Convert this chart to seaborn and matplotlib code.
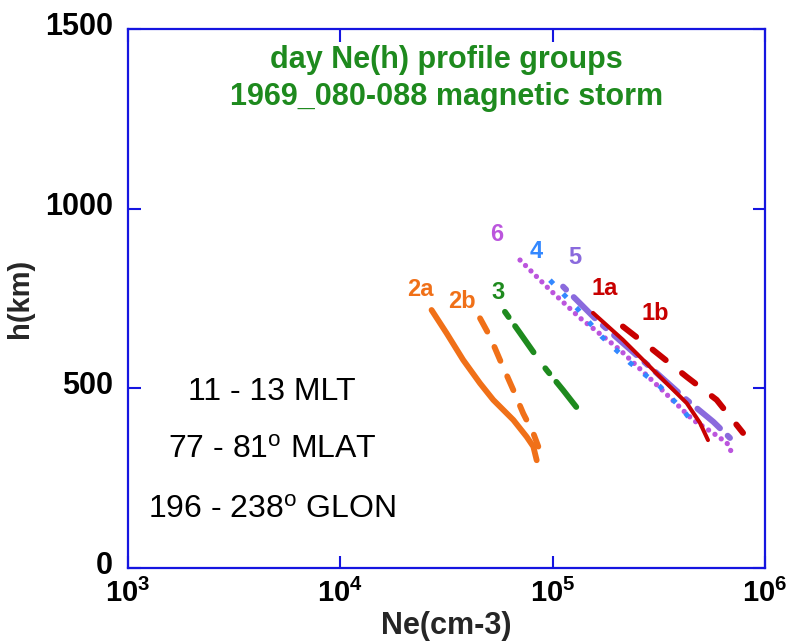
import matplotlib
matplotlib.use("Agg")
import matplotlib.pyplot as plt
import matplotlib.transforms as mtransforms
import seaborn as sns
import numpy as np
import pandas as pd
from matplotlib.ticker import FixedLocator, FixedFormatter, NullLocator

# ---- data (Ne in cm^-3, h in km) ----
ne_2a = [26900, 31700, 37900, 45500, 52500, 65300, 75500, 81100, 84100]
h_2a = [718, 653, 579, 514, 468, 412, 365, 338, 300]
ne_2b = [45500, 50700, 56500, 65300, 72700, 81100, 85600]
h_2b = [695, 644, 579, 495, 430, 375, 338]
ne_3 = [59600, 70200, 84100, 93700, 112000, 134500]
h_3 = [713, 654, 588, 551, 495, 435]
ne_6 = [70200, 97100, 134500, 207500, 320500, 458000, 569000, 662000, 707000]
h_6 = [857, 774, 696, 607, 501, 412, 376, 348, 314]
ne_4 = [97100, 129700, 170200, 231300, 320500, 411000, 476500]
h_4 = [801, 724, 644, 571, 505, 440, 390]
ne_5 = [112000, 129700, 161200, 215200, 297800, 427800, 570900, 684000]
h_5 = [783, 746, 690, 625, 551, 468, 407, 362]
ne_1a = [154900, 214300, 320500, 427800, 494000, 539000]
h_1a = [710, 635, 532, 459, 404, 356]
ne_1b = [214300, 297000, 427800, 592000, 788000]
h_1b = [672, 607, 532, 468, 376]

group_names = ["2a", "2b", "3", "6", "4", "5", "1a", "1b"]
label_ne = [23700, 37300, 55300, 54400, 84100, 127300, 176600, 303000]
label_h = [774, 741, 768, 927, 880, 863, 779, 707]

x_ticks = [1e3, 1e4, 1e5, 1e6]
x_ticklabels = [r"$\mathbf{10^{3}}$", r"$\mathbf{10^{4}}$", r"$\mathbf{10^{5}}$", r"$\mathbf{10^{6}}$"]
y_ticks = [0, 500, 1000, 1500]
y_ticklabels = ["0", "500", "1000", "1500"]

title_lines = ["day Ne(h) profile groups", "1969_080-088 magnetic storm"]
info_lines = ["11 - 13 MLT", r"77 - 81$^{\rm o}$ MLAT", r"196 - 238$^{\rm o}$ GLON"]

# ---- styling ----
sns.set_theme(style="white")
plt.rcParams["font.family"] = ["Liberation Sans", "DejaVu Sans"]
plt.rcParams["mathtext.fontset"] = "custom"
plt.rcParams["mathtext.rm"] = "Liberation Sans"
plt.rcParams["mathtext.bf"] = "Liberation Sans:bold"
plt.rcParams["mathtext.it"] = "Liberation Sans:italic"

ORANGE = "#F07018"
GREEN = "#1E8A1E"
ORCHID = "#BB55DD"
BLUE = "#3388FF"
PURPLE = "#8A6ADD"
RED = "#C80000"
AXBLUE = "#1515E0"

# name: (ne, h, colour, linewidth, dashes, capstyle)
series = {
    "2a": (ne_2a, h_2a, ORANGE, 4.2, None, "round"),
    "2b": (ne_2b, h_2b, ORANGE, 4.2, (2.6, 2.9), "round"),
    "3": (ne_3, h_3, GREEN, 4.2, (1.1, 1.9, 5.5, 3.4), "round"),
    "6": (ne_6, h_6, ORCHID, 3.8, (0.01, 1.45), "round"),
    "4": (ne_4, h_4, BLUE, 3.6, (1.0, 2.8), "butt"),
    "5": (ne_5, h_5, PURPLE, 4.3, (0.7, 1.8, 5.0, 1.8), "round"),
    "1a": (ne_1a, h_1a, RED, 2.9, None, "round"),
    "1b": (ne_1b, h_1b, RED, 4.3, (2.8, 3.5), "round"),
}
label_colors = {"2a": ORANGE, "2b": ORANGE, "3": GREEN, "6": ORCHID,
                "4": BLUE, "5": PURPLE, "1a": RED, "1b": RED}

fig = plt.figure(figsize=(7.88, 6.43), dpi=100)
ax = fig.add_axes([0.1624, 0.1166, 0.8084, 0.8383])

for name, (ne, h, col, lw, dash, cap) in series.items():
    df = pd.DataFrame({"Ne": ne, "h": h})
    sns.lineplot(data=df, x="Ne", y="h", sort=False, estimator=None,
                 color=col, linewidth=lw, ax=ax)
    line = ax.lines[-1]
    line.set_solid_capstyle("round")
    line.set_dash_capstyle(cap)
    if dash is not None:
        line.set_dashes(dash)

for name, lx, ly in zip(group_names, label_ne, label_h):
    ax.text(lx, ly, name, color=label_colors[name], fontsize=17,
            fontweight="bold", ha="center", va="center")

ax.set_xscale("log")
ax.set_xlim(1e3, 1e6)
ax.set_ylim(0, 1500)
ax.xaxis.set_major_locator(FixedLocator(x_ticks))
ax.xaxis.set_major_formatter(FixedFormatter(x_ticklabels))
ax.xaxis.set_minor_locator(NullLocator())
ax.yaxis.set_major_locator(FixedLocator(y_ticks))
ax.yaxis.set_major_formatter(FixedFormatter(y_ticklabels))

ax.tick_params(axis="both", which="major", direction="in", length=9, width=1.5,
               color=AXBLUE, top=True, right=True, bottom=True, left=True,
               labelcolor="black")
ax.tick_params(axis="y", pad=11, labelsize=22)
ax.tick_params(axis="x", pad=8, labelsize=21)
for sp in ax.spines.values():
    sp.set_color(AXBLUE)
    sp.set_linewidth(1.6)
    sp.set_visible(True)

# y tick labels sit a little above their ticks in the reference
up = mtransforms.ScaledTranslation(0, 4 / 72, fig.dpi_scale_trans)
for tick in ax.yaxis.get_major_ticks(len(y_ticks)):
    tick.label1.set_fontweight("bold")
    tick.label1.set_transform(tick.label1.get_transform() + up)

ax.set_xlabel("Ne(cm-3)", fontsize=22, fontweight="bold", labelpad=2)
ax.set_ylabel("h(km)", fontsize=21, fontweight="bold", labelpad=8)

ax.text(0.5, 0.943, title_lines[0], transform=ax.transAxes, color=GREEN,
        fontsize=22, fontweight="bold", ha="center", va="center")
ax.text(0.5, 0.874, title_lines[1], transform=ax.transAxes, color=GREEN,
        fontsize=22, fontweight="bold", ha="center", va="center")

for txt, yy in zip(info_lines, [0.3265, 0.219, 0.108]):
    ax.text(0.226, yy, txt, transform=ax.transAxes, color="black",
            fontsize=23, ha="center", va="center")

ax.grid(False)
fig.savefig("out.png", dpi=100)
